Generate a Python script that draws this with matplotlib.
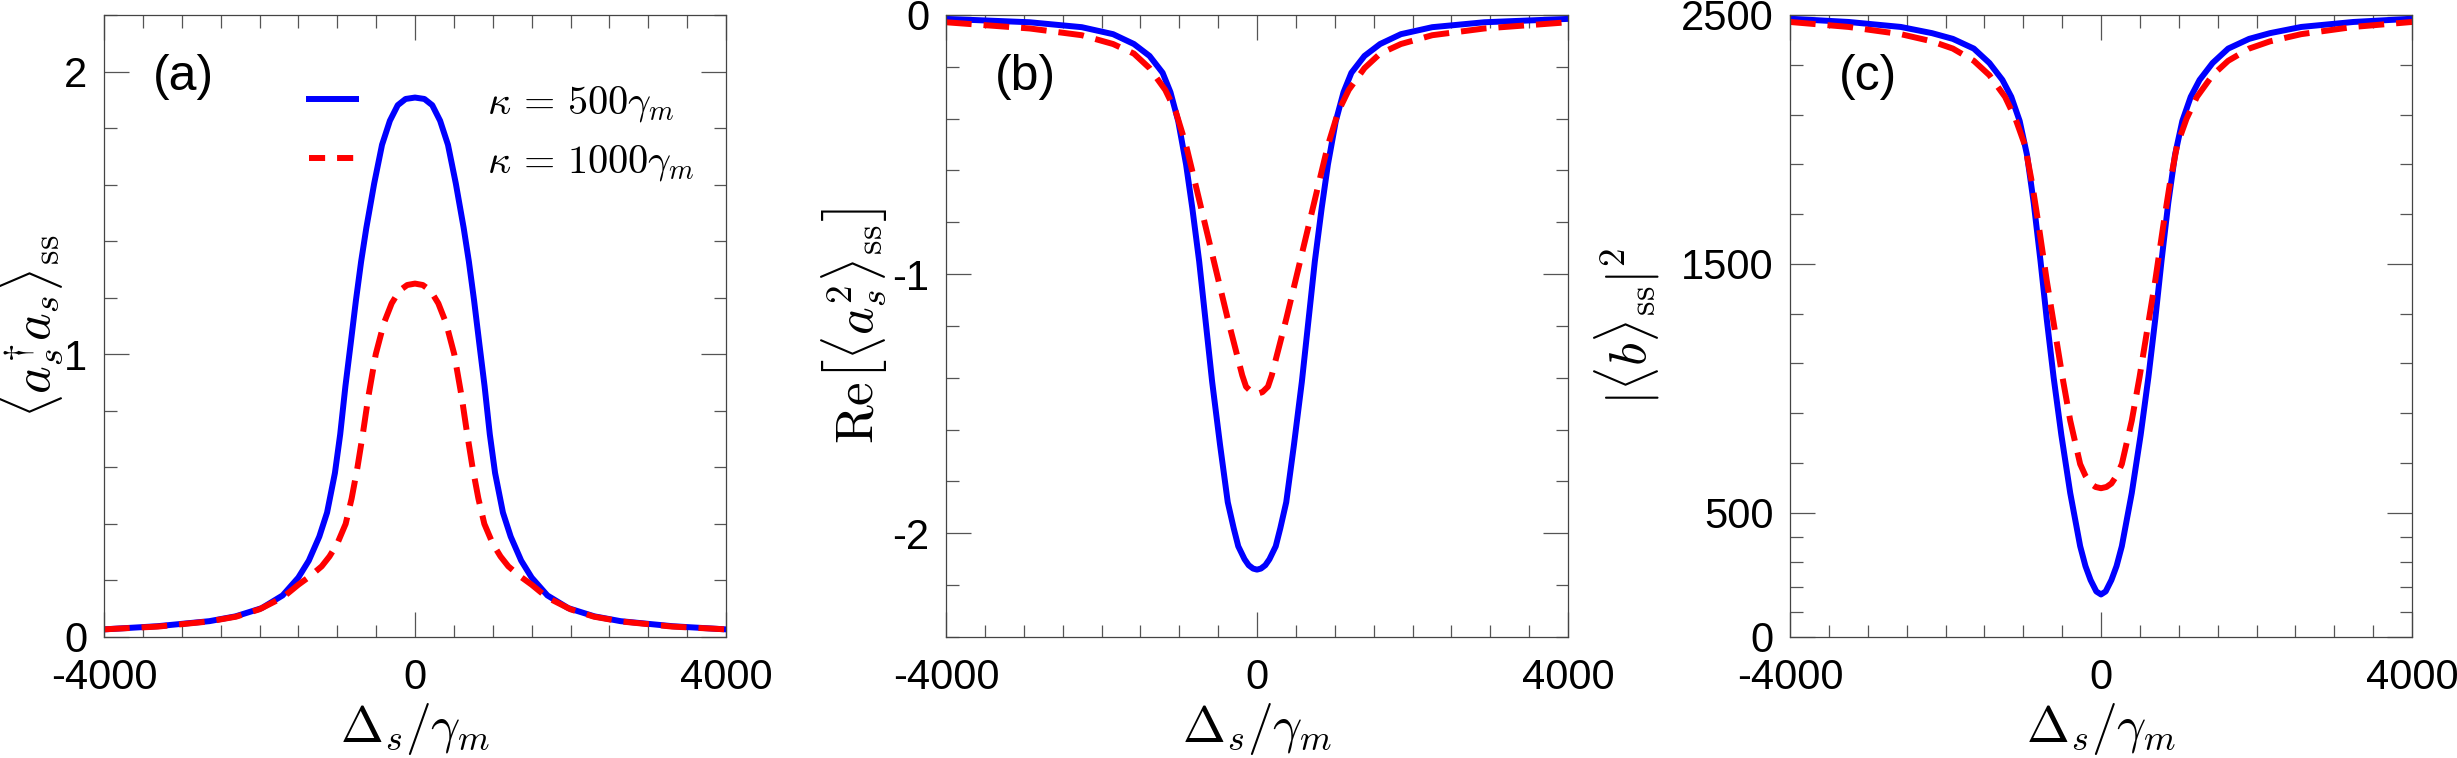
import numpy as np
import matplotlib
matplotlib.use("Agg")
import matplotlib.pyplot as plt
from matplotlib.lines import Line2D
from matplotlib.ticker import MultipleLocator, FixedLocator

# half-curves (x >= 0); curves are symmetric in detuning
# panel (a): <a_s^dag a_s>_ss
xa_blue = [0, 121, 222, 323, 424, 525, 626, 693, 760, 828, 895, 962, 1030, 1131, 1231, 1366, 1501,
           1703, 1972, 2308, 2645, 3318, 4000]
ya_blue = [1.908, 1.903, 1.881, 1.826, 1.741, 1.604, 1.447, 1.328, 1.19, 1.036, 0.887, 0.717, 0.58,
           0.44, 0.355, 0.27, 0.21, 0.147, 0.102, 0.073, 0.056, 0.038, 0.027]
xa_red = [0, 100, 200, 300, 400, 505, 600, 670, 740, 815, 892, 1000, 1100, 1200, 1350, 1500, 1700,
          2000, 2300, 2650, 3300, 4000]
ya_red = [1.25, 1.245, 1.225, 1.18, 1.11, 1.00, 0.85, 0.72, 0.60, 0.49, 0.40, 0.33, 0.285, 0.25,
          0.215, 0.185, 0.14, 0.098, 0.072, 0.055, 0.037, 0.027]

# panel (b): Re[<a_s^2>_ss]
xb_blue = [0, 50, 107, 160, 241, 300, 376, 476, 577, 664, 744, 832, 912, 1013, 1113, 1214, 1382,
           1583, 1851, 2254, 2924, 4000]
yb_blue = [-2.14, -2.136, -2.123, -2.10, -2.05, -1.98, -1.88, -1.657, -1.415, -1.173, -0.95, -0.745,
           -0.577, -0.41, -0.298, -0.223, -0.158, -0.112, -0.074, -0.047, -0.028, -0.015]
xb_red = [0, 70, 141, 190, 241, 376, 510, 644, 778, 912, 1046, 1180, 1382, 1583, 1851, 2254, 2924,
          4000]
yb_red = [-1.462, -1.455, -1.434, -1.39, -1.33, -1.173, -1.006, -0.838, -0.67, -0.503, -0.372,
          -0.289, -0.205, -0.149, -0.112, -0.078, -0.052, -0.028]

# panel (c): |<b>_ss|^2
xc_blue = [0, 60, 134, 200, 268, 396, 510, 610, 698, 778, 865, 952, 1046, 1154, 1268, 1435, 1636,
           1905, 2173, 2575, 3246, 4000]
yc_blue = [171, 183, 229, 285, 365, 579, 812, 1045, 1278, 1511, 1744, 1938, 2074, 2171, 2239, 2307,
           2365, 2404, 2427, 2452, 2472, 2485]
xc_red = [0, 70, 134, 200, 268, 396, 496, 597, 698, 798, 885, 979, 1100, 1234, 1435, 1636, 1905,
          2173, 2575, 3246, 4000]
yc_red = [598, 603, 617, 648, 695, 870, 1045, 1239, 1433, 1647, 1821, 1977, 2083, 2171, 2258, 2316,
          2365, 2394, 2423, 2452, 2472]

legend_labels = [r'$\kappa\,=\,500\gamma_m$', r'$\kappa\,=\,1000\gamma_m$']
panel_tags = ['(a)', '(b)', '(c)']
ylabels = [r'$\langle a_s^{\dagger} a_s\rangle_{\mathrm{ss}}$',
           r'$\mathrm{Re}\left[\langle a_s^2\rangle_{\mathrm{ss}}\right]$',
           r'$|\langle b\rangle_{\mathrm{ss}}|^2$']
ylims = [(0, 2.2), (-2.4, 0), (0, 2500)]
yticks = [[0, 1, 2], [-2, -1, 0], [0, 500, 1500, 2500]]
yminor = [list(np.arange(0, 2.21, 0.2)), list(np.arange(-2.4, 0.01, 0.2)),
          [100, 200, 300, 400, 700, 900, 1100, 1300, 1700, 1900, 2100, 2300]]

BLUE = '#0000ff'
RED = '#ff0000'
LW = 4.3
DASH = (4.3, 2.0)

plt.rcParams['font.family'] = ['Liberation Sans', 'DejaVu Sans']
plt.rcParams['mathtext.fontset'] = 'cm'
plt.rcParams['axes.unicode_minus'] = False


def mirror(x, y):
    """Build full curve from the x >= 0 half."""
    x = np.asarray(x, float)
    y = np.asarray(y, float)
    return np.concatenate([-x[::-1], x[1:]]), np.concatenate([y[::-1], y[1:]])


def style_axes(ax, i):
    ax.set_xlim(-4000, 4000)
    ax.set_ylim(*ylims[i])
    ax.set_xticks([-4000, 0, 4000])
    ax.xaxis.set_minor_locator(MultipleLocator(500))
    ax.set_yticks(yticks[i])
    ax.yaxis.set_minor_locator(FixedLocator(yminor[i]))
    ax.tick_params(which='both', direction='in', top=True, right=True,
                   color='#555555', width=0.9, labelsize=30)
    ax.tick_params(which='major', length=18)
    ax.tick_params(which='minor', length=9)
    ax.tick_params(axis='x', pad=15)
    ax.tick_params(axis='y', pad=12)
    for s in ax.spines.values():
        s.set_color('#444444')
        s.set_linewidth(0.9)
    ax.set_xlabel(r'$\Delta_s/\gamma_m$', fontsize=37, labelpad=2)
    ax.set_ylabel(ylabels[i], fontsize=38)
    ax.text(0.078, 0.90, panel_tags[i], transform=ax.transAxes,
            fontsize=36, ha='left', va='center')


fig = plt.figure(figsize=(24.57, 7.58), dpi=100)
W, H = 2457.0, 758.0
lefts = [104, 946, 1790]
axes = [fig.add_axes([l / W, (H - 637) / H, 622 / W, 622 / H]) for l in lefts]

data = [(xa_blue, ya_blue, xa_red, ya_red),
        (xb_blue, yb_blue, xb_red, yb_red),
        (xc_blue, yc_blue, xc_red, yc_red)]

for i, ax in enumerate(axes):
    xb, yb, xr, yr = data[i]
    ax.plot(*mirror(xb, yb), color=BLUE, lw=LW)
    ax.plot(*mirror(xr, yr), color=RED, lw=LW, dashes=DASH)
    style_axes(ax, i)

axes[0].yaxis.set_label_coords(-0.062, 0.5)
axes[1].yaxis.set_label_coords(-0.09, 0.5)
axes[2].yaxis.set_label_coords(-0.205, 0.5)

handles = [Line2D([], [], color=BLUE, lw=LW),
           Line2D([], [], color=RED, lw=LW, dashes=(2.7, 2.0))]
axes[0].legend(handles, legend_labels, loc='upper left', bbox_to_anchor=(0.33, 0.89),
               frameon=False, fontsize=29, handlelength=1.17, handletextpad=3.25,
               labelspacing=0.45, borderaxespad=0, borderpad=0)

fig.savefig('out.png', dpi=100)
